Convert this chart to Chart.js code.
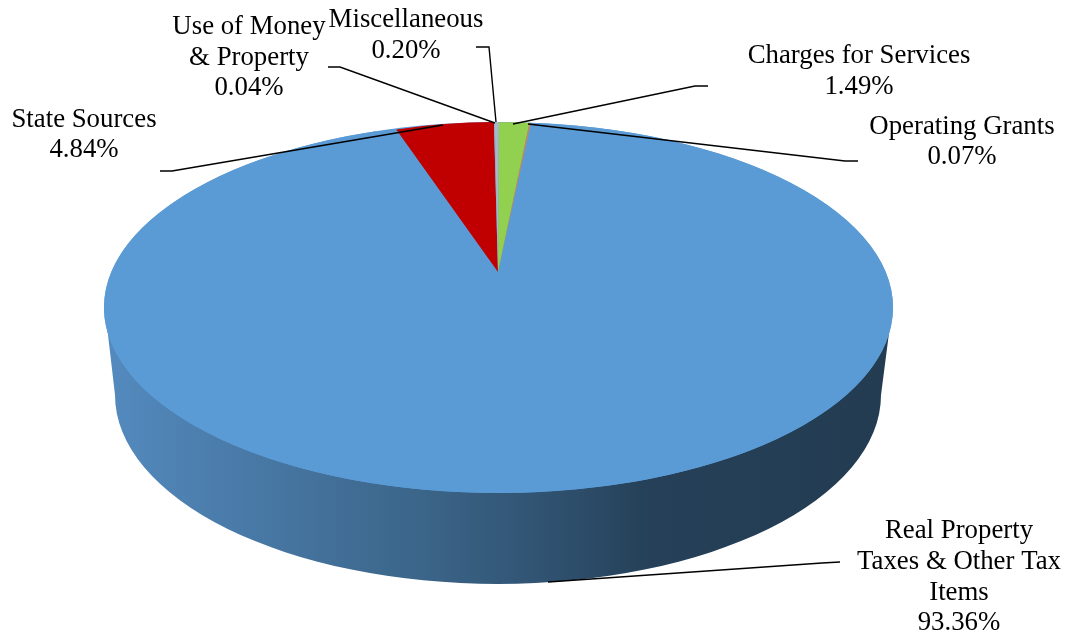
<!DOCTYPE html>
<html>
<head>
<meta charset="utf-8">
<style>html,body{margin:0;padding:0;background:#fff}canvas{display:block}</style>
<script src="https://cdn.jsdelivr.net/npm/chart.js@4"></script>
</head>
<body>
<canvas id="c" width="1070" height="634" style="width:1070px;height:634px"></canvas>
<script>
const categories = ['Real Property Taxes & Other Tax Items','State Sources','Use of Money & Property','Miscellaneous','Charges for Services','Operating Grants'];
const shares = [93.36, 4.84, 0.04, 0.20, 1.49, 0.07];
const sliceColors = ['#5B9BD5','#C00000','#9DB5CC','#A9B8C6','#92D050','#D0864A'];
const labelLines = [
  ['Real Property','Taxes & Other Tax','Items','93.36%'],
  ['State Sources','4.84%'],
  ['Use of Money','& Property','0.04%'],
  ['Miscellaneous','0.20%'],
  ['Charges for Services','1.49%'],
  ['Operating Grants','0.07%']
];
const labelPlace = [
  {x:959, y:[538,569,600,630]},
  {x:84,  y:[127,157]},
  {x:249, y:[34,65,95]},
  {x:406, y:[27,58]},
  {x:859, y:[63,94]},
  {x:962, y:[134,164]}
];
const leaders = [
  [[840,562],[822,563],[548,582]],
  [[160,171],[172,171],[443,125]],
  [[328,67],[340,67],[495,123]],
  [[476,47],[489,47],[496,122]],
  [[708,86],[695,86],[513,124]],
  [[858,161],[845,161],[528,124]]
];
const topFace = {cx:498.5, cy:307.5, rx:394.5, ry:185.5};
const bottomFace = {cx:498, cy:395, rx:383, ry:189};
const apex = {x:498, y:272, rx:327, ry:150};
const wallStops = [[0,'#5389BD'],[0.23,'#45749F'],[0.4,'#3B6589'],[0.55,'#315473'],[0.7,'#254058'],[1,'#233C52']];

const pie3d = {
  id:'pie3d',
  beforeDatasetDraw(chart, args){
    const ctx = chart.ctx, arcs = args.meta.data, a0 = arcs[0];
    const R = a0.outerRadius;
    ctx.save();
    const g = ctx.createLinearGradient(bottomFace.cx-bottomFace.rx,0,bottomFace.cx+bottomFace.rx,0);
    wallStops.forEach(s=>g.addColorStop(s[0],s[1]));
    ctx.fillStyle = g;
    ctx.beginPath();
    ctx.moveTo(topFace.cx-topFace.rx+2, topFace.cy+10);
    ctx.lineTo(bottomFace.cx-bottomFace.rx, bottomFace.cy);
    ctx.ellipse(bottomFace.cx,bottomFace.cy,bottomFace.rx,bottomFace.ry,0,Math.PI,0,true);
    ctx.lineTo(topFace.cx+topFace.rx-2, topFace.cy+10);
    ctx.closePath();
    ctx.fill();
    ctx.fillStyle = sliceColors[0];
    ctx.beginPath();
    ctx.ellipse(topFace.cx,topFace.cy,topFace.rx,topFace.ry,0,0,Math.PI*2);
    ctx.fill();
    ctx.restore();
    arcs.forEach((arc,i)=>{
      const t = i===0 ? {x:topFace.cx,y:topFace.cy,rx:topFace.rx,ry:topFace.ry} : apex;
      ctx.save();
      ctx.translate(t.x,t.y);
      ctx.scale(t.rx/R,t.ry/R);
      ctx.translate(-arc.x,-arc.y);
      arc.draw(ctx,chart.chartArea);
      ctx.restore();
    });
    return false;
  },
  afterDatasetsDraw(chart){
    const ctx = chart.ctx;
    ctx.save();
    ctx.strokeStyle='#000';
    ctx.lineWidth=1.4;
    leaders.forEach(l=>{
      ctx.beginPath();
      l.forEach((p,i)=> i?ctx.lineTo(p[0],p[1]):ctx.moveTo(p[0],p[1]));
      ctx.stroke();
    });
    ctx.fillStyle='#000';
    ctx.font='26.8px "Liberation Serif"';
    ctx.textAlign='center';
    ctx.textBaseline='alphabetic';
    labelLines.forEach((lines,i)=>{
      lines.forEach((s,j)=>ctx.fillText(s,labelPlace[i].x,labelPlace[i].y[j]));
    });
    ctx.restore();
  }
};

new Chart(document.getElementById('c'),{
  type:'pie',
  data:{labels:categories,datasets:[{data:shares,backgroundColor:sliceColors,borderWidth:0}]},
  options:{
    responsive:false,
    animation:false,
    rotation:5.77,
    layout:{padding:0},
    plugins:{legend:{display:false},tooltip:{enabled:false},title:{display:false}}
  },
  plugins:[pie3d]
});
</script>
</body>
</html>
